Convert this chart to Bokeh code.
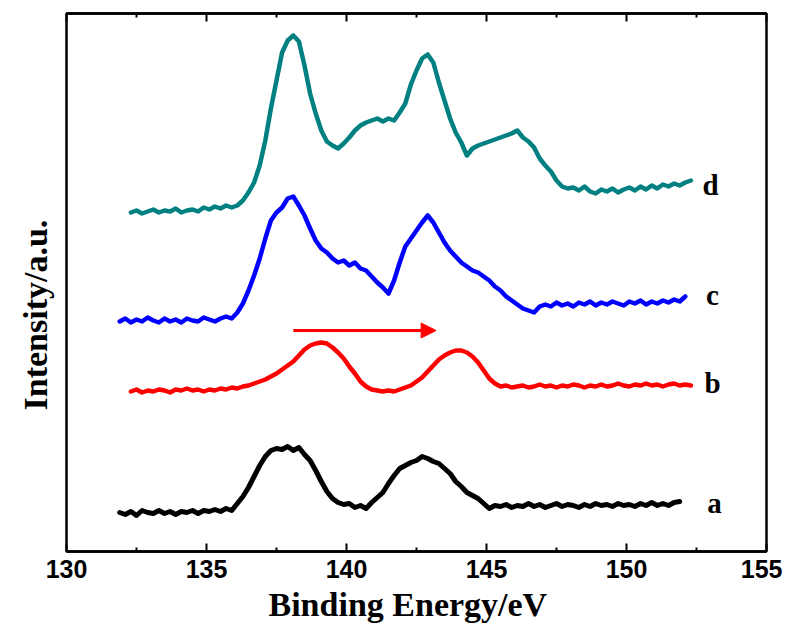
import math
from bokeh.plotting import figure
from bokeh.models import Range1d, LinearAxis, Title, Arrow, NormalHead, FixedTicker
from bokeh.embed import file_html
from bokeh.resources import INLINE
from bokeh.core.properties import value

# Binding energy grid (eV)
energy = [
    131.9,
    132.1, 132.3, 132.5, 132.7, 132.9,
    133.1, 133.3, 133.5, 133.7, 133.9,
    134.1, 134.3, 134.5, 134.7, 134.9,
    135.1, 135.3, 135.5, 135.7, 135.9,
    136.1, 136.3, 136.5, 136.7, 136.9,
    137.1, 137.3, 137.5, 137.7, 137.9,
    138.1, 138.3, 138.5, 138.7, 138.9,
    139.1, 139.3, 139.5, 139.7, 139.9,
    140.1, 140.3, 140.5, 140.7, 140.9,
    141.1, 141.3, 141.5, 141.7, 141.9,
    142.1, 142.3, 142.5, 142.7, 142.9,
    143.1, 143.3, 143.5, 143.7, 143.9,
    144.1, 144.3, 144.5, 144.7, 144.9,
    145.1, 145.3, 145.5, 145.7, 145.9,
    146.1, 146.3, 146.5, 146.7, 146.9,
    147.1, 147.3, 147.5, 147.7, 147.9,
    148.1, 148.3, 148.5, 148.7, 148.9,
    149.1, 149.3, 149.5, 149.7, 149.9,
    150.1, 150.3, 150.5, 150.7, 150.9,
    151.1, 151.3, 151.5, 151.7, 151.9,
    152.1, 152.3,
]

# curve a (black), starts at 131.9
int_a = [
    39,
    37, 40, 36, 41, 39,
    38, 41, 38, 40, 37,
    40, 39, 41, 38, 41,
    40, 42, 40, 43, 41,
    48, 55, 64, 75, 86,
    95, 101, 103, 102, 105,
    101, 104, 97, 91, 81,
    70, 60, 53, 49, 47,
    48, 44, 46, 43, 49,
    54, 59, 68, 76, 83,
    86, 89, 91, 95, 93,
    90, 88, 83, 78, 70,
    65, 59, 56, 53, 48,
    43, 46, 45, 47, 44,
    46, 45, 48, 45, 47,
    44, 46, 48, 45, 47,
    46, 44, 47, 45, 48,
    46, 47, 45, 48, 46,
    47, 45, 48, 46, 49,
    46, 48, 46, 49, 50,
]

# curve b (red), starts at 132.3
int_b = [
    160, 162, 159, 161,
    160, 162, 161, 159, 162,
    161, 163, 161, 162, 160,
    162, 161, 163, 162, 164,
    163, 165, 166, 168, 170,
    172, 175, 178, 182, 186,
    190, 196, 202, 206, 208,
    209, 208, 204, 199, 193,
    185, 178, 170, 165, 162,
    161, 160, 161, 160, 162,
    164, 166, 170, 174, 180,
    186, 192, 196, 199, 201,
    201, 199, 195, 189, 181,
    173, 168, 165, 166, 164,
    165, 166, 164, 165, 167,
    165, 166, 164, 166, 165,
    167, 166, 164, 166, 165,
    167, 165, 166, 168, 166,
    165, 167, 166, 168, 166,
    167, 165, 167, 168, 166,
    167, 166,
]

# curve c (blue), starts at 131.9
int_c = [
    230,
    233, 229, 232, 230, 234,
    231, 229, 233, 230, 232,
    229, 233, 231, 230, 234,
    232, 230, 233, 235, 233,
    239, 248, 261, 276, 293,
    313, 331, 339, 344, 353,
    355, 346, 336, 323, 311,
    303, 299, 293, 289, 291,
    286, 289, 283, 281, 275,
    269, 264, 258, 271, 289,
    305, 313, 321, 329, 336,
    329, 319, 309, 301, 295,
    289, 285, 281, 279, 275,
    271, 265, 261, 255, 251,
    247, 243, 241, 239, 245,
    247, 245, 249, 246, 248,
    245, 249, 247, 250, 246,
    249, 247, 250, 248, 246,
    250, 248, 251, 247, 250,
    248, 251, 249, 252, 250,
    255,
]

# curve d (teal), starts at 132.3
int_d = [
    339, 341, 338, 340,
    342, 339, 341, 340, 343,
    339, 341, 342, 340, 344,
    342, 345, 343, 346, 344,
    346, 351, 359, 369, 386,
    411, 443, 471, 499, 511,
    516, 510, 486, 458, 438,
    421, 410, 406, 403, 408,
    414, 421, 426, 429, 431,
    433, 430, 433, 431, 439,
    448, 467, 481, 493, 497,
    489, 469, 451, 433, 419,
    409, 396, 403, 406, 408,
    410, 412, 414, 416, 418,
    421, 414, 410, 404, 393,
    386, 380, 371, 365, 363,
    364, 361, 365, 360, 358,
    362, 360, 363, 359, 362,
    364, 361, 365, 362, 366,
    363, 367, 365, 368, 366,
    369, 371,
]

series_names = ["a", "b", "c", "d"]
series_colors = ["#000000", "#ff0000", "#0000ff", "#008080"]
series_start = [0, 2, 0, 2]
series_vals = [int_a, int_b, int_c, int_d]
series_widths = [5, 4.5, 4.5, 4.5]

label_x = [153.14, 153.07, 153.07, 153.0]
label_y = [49, 169, 257, 367]

x_ticks = [130, 135, 140, 145, 150, 155]
x_minor = [132.5, 137.5, 142.5, 147.5, 152.5]

arrow_x = [138.1, 143.2]
arrow_y = 221

p = figure(
    frame_width=700, frame_height=538,
    x_range=Range1d(130, 155), y_range=Range1d(0, 538),
    output_backend="svg", toolbar_location=None,
    y_axis_location=None,
    min_border_left=66, min_border_right=16, min_border_top=13, min_border_bottom=10,
)
p.xgrid.visible = False
p.ygrid.visible = False
p.outline_line_color = "black"
p.outline_line_width = 2.5
p.background_fill_color = "white"
p.border_fill_color = "white"

ticker = FixedTicker(ticks=x_ticks, minor_ticks=x_minor)
xa = p.xaxis[0]
xa.ticker = ticker
xa.axis_line_width = 2.5
xa.major_tick_in = 8
xa.major_tick_out = 0
xa.minor_tick_in = 4
xa.minor_tick_out = 0
xa.major_tick_line_width = 2
xa.minor_tick_line_width = 2
xa.major_label_text_font = "Liberation Sans"
xa.major_label_text_font_style = "bold"
xa.major_label_text_font_size = "25px"
xa.major_label_text_color = "black"
xa.major_label_standoff = 8

xlab = Title(text="Binding Energy/eV", align="left", offset=202, standoff=6,
             text_font="Liberation Serif", text_font_style="bold", text_font_size="34px",
             text_color="black")
p.add_layout(xlab, "below")

top = LinearAxis(ticker=ticker, major_label_overrides={t: "" for t in x_ticks},
                 major_label_standoff=0, major_label_text_font_size="1px",
                 major_tick_in=8, major_tick_out=0, minor_tick_in=4, minor_tick_out=0,
                 major_tick_line_width=2, minor_tick_line_width=2, axis_line_width=2.5)
p.add_layout(top, "above")

for name, col, s, vals, lw in zip(series_names, series_colors, series_start, series_vals, series_widths):
    xs = energy[s:s + len(vals)]
    p.line(xs, vals, line_color=col, line_width=lw, line_join="round", line_cap="round")

p.text(x=label_x, y=label_y, text=series_names, text_font=value("Liberation Serif"),
       text_font_style="bold", text_font_size="29px", text_align="center",
       text_baseline="alphabetic", text_color="black")

p.add_layout(Arrow(end=NormalHead(size=15, fill_color="red", line_color="red"),
                   x_start=arrow_x[0], y_start=arrow_y, x_end=arrow_x[1], y_end=arrow_y,
                   line_color="red", line_width=3))

ylab = Title(text="Intensity/a.u.", align="left", offset=141, standoff=26,
             text_font="Liberation Serif", text_font_style="bold", text_font_size="34px",
             text_color="black")
p.add_layout(ylab, "left")

open("out.html", "w").write(file_html(p, INLINE))
